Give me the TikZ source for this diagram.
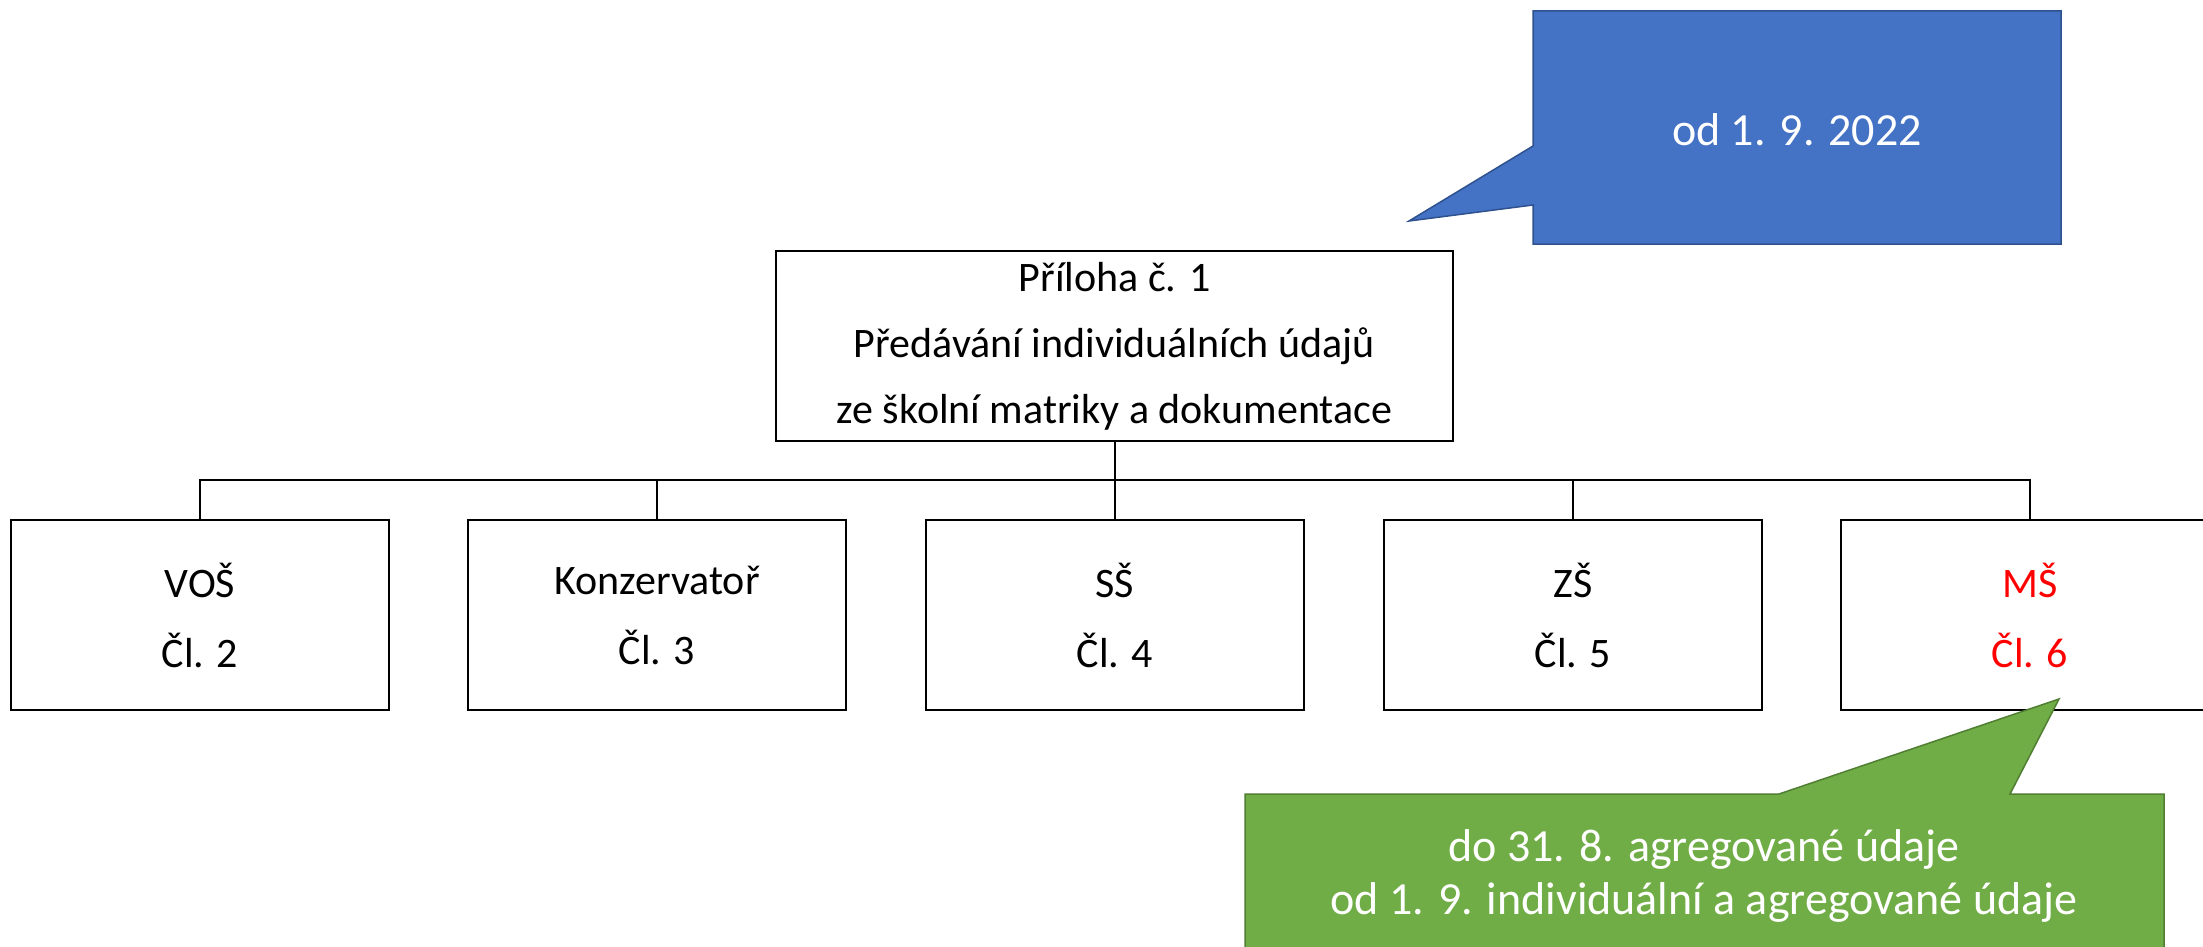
\documentclass[tikz,border=0pt]{standalone}
\usepackage{fontspec}
\setmainfont{Carlito}
\definecolor{callblue}{HTML}{4472C4}
\definecolor{callblueb}{HTML}{2F528F}
\definecolor{callgreen}{HTML}{70AD47}
\definecolor{callgreenb}{HTML}{507E32}
\definecolor{msred}{HTML}{FF0000}
\begin{document}
\begin{tikzpicture}[x=1pt,y=-1pt,
  box/.style={draw=black, line width=2.5pt, fill=white, minimum width=378pt, minimum height=190pt,
    inner sep=0pt, align=center, font=\fontsize{42}{70}\selectfont},
  mainbox/.style={box, minimum width=677pt, minimum height=190pt, font=\fontsize{42}{66}\selectfont},
  conn/.style={draw=black, line width=2pt},
  bluecall/.style={fill=callblue, draw=callblueb, line width=1.5pt, line join=miter},
  greencall/.style={fill=callgreen, draw=callgreenb, line width=1.5pt, line join=miter},
  calltext/.style={text=white, align=center, inner sep=0pt}
]
\useasboundingbox (0,0) rectangle (2203,947);
\fill[white] (0,0) rectangle (2203,947);

% blue callout
\draw[bluecall] (1533,11) -- (2061,11) -- (2061,244) -- (1533,244) -- (1533,205) -- (1409,221) -- (1533,146) -- cycle;
\node[calltext, font=\fontsize{46}{55}\selectfont] (bluetext) at (1797,130) {od 1. 9. 2022};

% main box
\node[mainbox] (main) at (1114.5,346) {Příloha č. 1\\Předávání individuálních údajů\\ze školní matriky a dokumentace};

% children
\node[box] (c1) at (200,615) {VOŠ\\Čl. 2};
\node[box] (c2) at (657,615) {Konzervatoř\\Čl. 3};
\node[box] (c3) at (1115,615) {SŠ\\Čl. 4};
\node[box] (c4) at (1573,615) {ZŠ\\Čl. 5};
\node[box, text=msred] (c5) at (2030,615) {MŠ\\Čl. 6};

\coordinate (bus) at (1114.5,480);
\draw[conn] (main.south) -- (bus);
\foreach \c in {c1,c2,c3,c4,c5} {
  \draw[conn] (bus) -| (\c.north);
}

% green callout
\draw[greencall] (1245,794) -- (1779,794) -- (2059,699) -- (2010,794) -- (2164,794) -- (2164,970) -- (1245,970) -- cycle;
\node[calltext, font=\fontsize{46}{53}\selectfont] (greentext) at (1704,876) {do 31. 8. agregované údaje\\od 1. 9. individuální a agregované údaje};
\end{tikzpicture}
\end{document}
